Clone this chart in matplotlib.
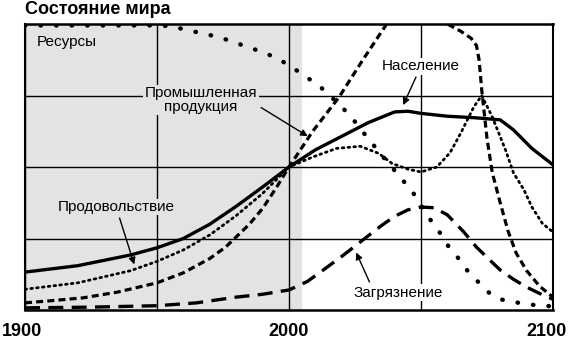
import matplotlib.pyplot as plt
from matplotlib.transforms import ScaledTranslation

plt.rcParams['font.family'] = ['Liberation Sans', 'DejaVu Sans']

# population (solid)
pop_years = [1900, 1920, 1940, 1950, 1960, 1970, 1980, 1990, 2000, 2010, 2020,
             2030, 2040, 2045, 2050, 2060, 2070, 2080, 2085, 2092, 2100]
pop_vals = [0.53, 0.62, 0.77, 0.87, 1.0, 1.2, 1.45, 1.72, 2.0, 2.24, 2.43,
            2.62, 2.77, 2.78, 2.75, 2.71, 2.69, 2.66, 2.52, 2.26, 2.03]

# food (fine dots)
food_years = [1900, 1920, 1940, 1950, 1960, 1970, 1980, 1990, 2000, 2009, 2018,
              2027, 2034, 2039, 2045, 2050, 2056, 2061, 2065, 2070, 2073, 2077,
              2082, 2085, 2089, 2092, 2096, 2100]
food_vals = [0.29, 0.38, 0.55, 0.68, 0.84, 1.05, 1.32, 1.63, 2.0, 2.14, 2.26,
             2.29, 2.19, 2.05, 1.97, 1.93, 2.0, 2.2, 2.47, 2.84, 3.0, 2.7,
             2.24, 1.92, 1.68, 1.44, 1.21, 1.09]

# industrial output (short dashes)
ind_years = [1900, 1910, 1922, 1935, 1950, 1960, 1970, 1976, 1985, 1990, 1995,
             2000, 2009, 2019, 2028, 2037, 2042, 2048, 2054, 2060, 2065, 2069,
             2071, 2072, 2073, 2075, 2077, 2080, 2083, 2086, 2090, 2095, 2100]
ind_vals = [0.1, 0.13, 0.17, 0.25, 0.38, 0.52, 0.72, 0.88, 1.2, 1.42, 1.7,
            2.0, 2.5, 2.98, 3.5, 4.0, 4.3, 4.45, 4.3, 4.0, 3.9, 3.8,
            3.7, 3.5, 3.08, 2.4, 1.92, 1.5, 1.1, 0.8, 0.55, 0.33, 0.18]

# resources (large dots)
res_years = [1900, 1920, 1940, 1950, 1955, 1961, 1967, 1973, 1979, 1984, 1990,
             1996, 2001, 2006, 2011, 2016, 2020, 2024, 2028, 2035, 2043, 2047,
             2053, 2057, 2060, 2064, 2068, 2072, 2075, 2080, 2087, 2093, 2100]
res_vals = [3.98, 3.98, 3.98, 3.98, 3.97, 3.92, 3.87, 3.82, 3.75, 3.68, 3.61,
            3.51, 3.4, 3.27, 3.15, 2.98, 2.84, 2.68, 2.49, 2.17, 1.82, 1.64,
            1.29, 1.09, 0.91, 0.73, 0.53, 0.38, 0.26, 0.15, 0.1, 0.07, 0.05]

# pollution (long dashes)
pol_years = [1900, 1925, 1950, 1965, 1980, 1990, 2000, 2007, 2013, 2020, 2028,
             2035, 2040, 2045, 2050, 2055, 2060, 2066, 2071, 2076, 2080, 2085,
             2090, 2095, 2100]
pol_vals = [0.03, 0.04, 0.06, 0.1, 0.18, 0.22, 0.28, 0.4, 0.56, 0.75, 0.98,
            1.18, 1.31, 1.4, 1.44, 1.43, 1.33, 1.1, 0.88, 0.7, 0.56, 0.43,
            0.32, 0.23, 0.15]

tick_years = [1900, 1950, 2000, 2050, 2100]
tick_labels = ['1900', '', '2000', '', '2100']

shade = '#e3e3e3'

fig = plt.figure(figsize=(5.7, 3.43), dpi=100)
ax = fig.add_axes([25 / 570, 1 - 310 / 343, 528 / 570, 286 / 343])

ax.axvspan(1900, 2005, color=shade, lw=0, zorder=0)

ax.plot(pop_years, pop_vals, color='black', lw=2.4, zorder=3)
ax.plot(food_years, food_vals, color='black', lw=2.0,
        linestyle=(0, (0.6, 1.5)), dash_capstyle='round', zorder=3)
ax.plot(ind_years, ind_vals, color='black', lw=2.3,
        linestyle=(0, (2.2, 1.3)), zorder=3)
ax.plot(res_years, res_vals, color='black', lw=3.2,
        linestyle=(0, (0.1, 3.4)), dash_capstyle='round', zorder=3)
ax.plot(pol_years, pol_vals, color='black', lw=2.4,
        linestyle=(0, (4.5, 2.5)), zorder=3)

ax.set_xlim(1900, 2100)
ax.set_ylim(0, 4)
ax.set_xticks(tick_years)
ax.set_xticklabels(tick_labels, fontsize=13, fontweight='bold')
ax.set_yticks([1, 2, 3])
ax.set_yticklabels([])
ax.tick_params(length=0, pad=9)
ax.grid(True, color='black', lw=1.0, zorder=1)
ax.set_axisbelow(True)
for side, s in ax.spines.items():
    s.set_linewidth(1.8 if side in ('top', 'bottom') else 1.5)

# nudge the end labels like in the original
labels = ax.get_xticklabels()
labels[0].set_transform(labels[0].get_transform() + ScaledTranslation(-0.03, 0, fig.dpi_scale_trans))
labels[-1].set_transform(labels[-1].get_transform() + ScaledTranslation(-0.065, 0, fig.dpi_scale_trans))

fig.text(25 / 570, 1 - 9 / 343, 'Состояние мира', fontsize=13, fontweight='bold',
         va='center', ha='left')

arrow = dict(arrowstyle='-|>', color='black', lw=1.0, mutation_scale=10)
ax.text(1904.5, 3.75, 'Ресурсы', fontsize=11, va='center', ha='left', zorder=4)
ax.annotate('Промышленная\nпродукция', xy=(2008, 2.41), xytext=(1966.7, 2.94),
            fontsize=11, ha='center', va='center', linespacing=0.95,
            bbox=dict(facecolor=shade, edgecolor='none', pad=1),
            arrowprops=dict(arrowstyle='-|>', color='black', lw=1.0,
                            mutation_scale=10, relpos=(1.0, 0.3)), zorder=4)
ax.annotate('Население', xy=(2042.8, 2.83), xytext=(2050, 3.41),
            fontsize=11, ha='center', va='center',
            bbox=dict(facecolor='white', edgecolor='none', pad=1),
            arrowprops=arrow, zorder=4)
ax.annotate('Продовольствие', xy=(1941.7, 0.6), xytext=(1934.5, 1.44),
            fontsize=11, ha='center', va='center',
            bbox=dict(facecolor=shade, edgecolor='none', pad=1),
            arrowprops=arrow, zorder=4)
ax.annotate('Загрязнение', xy=(2025, 0.84), xytext=(2041.3, 0.24),
            fontsize=11, ha='center', va='center',
            bbox=dict(facecolor='white', edgecolor='none', pad=1),
            arrowprops=dict(arrowstyle='-|>', color='black', lw=1.0,
                            mutation_scale=10, relpos=(0.2, 1.0)), zorder=4)

fig.savefig('out.png', dpi=100)
